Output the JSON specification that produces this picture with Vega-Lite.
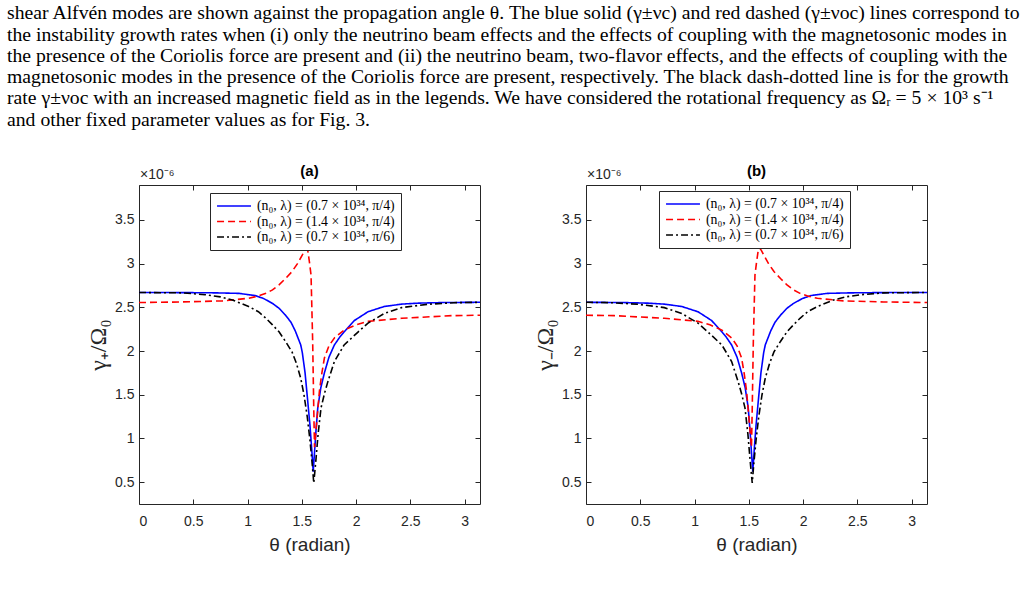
{
  "$schema": "https://vega.github.io/schema/vega-lite/v6.json",
  "background": "white",
  "padding": {"left": 7, "top": 3, "right": 5, "bottom": 5},
  "title": {
    "text": [
      "shear Alfvén modes are shown against the propagation angle θ. The blue solid (γ±νc) and red dashed (γ±νoc) lines correspond to",
      "the instability growth rates when (i) only the neutrino beam effects and the effects of coupling with the magnetosonic modes in",
      "the presence of the Coriolis force are present and (ii) the neutrino beam, two-flavor effects, and the effects of coupling with the",
      "magnetosonic modes in the presence of the Coriolis force are present, respectively. The black dash-dotted line is for the growth",
      "rate γ±νoc with an increased magnetic field as in the legends. We have considered the rotational frequency as Ωᵣ = 5 × 10³ s⁻¹",
      "and other fixed parameter values as for Fig. 3."
    ],
    "anchor": "start",
    "font": "Liberation Serif",
    "fontSize": 19.7,
    "fontWeight": "normal",
    "color": "black",
    "lineHeight": 21.3,
    "offset": 34,
    "dx": -79
  },
  "datasets": {
    "a": [
      {"t": 0, "g": 2.670, "s": "A"}, {"t": 0.4, "g": 2.669, "s": "A"}, {"t": 0.7, "g": 2.666, "s": "A"}, {"t": 0.92, "g": 2.660, "s": "A"},
      {"t": 1.07, "g": 2.635, "s": "A"}, {"t": 1.15, "g": 2.600, "s": "A"}, {"t": 1.23, "g": 2.545, "s": "A"}, {"t": 1.29, "g": 2.490, "s": "A"},
      {"t": 1.35, "g": 2.410, "s": "A"}, {"t": 1.40, "g": 2.330, "s": "A"}, {"t": 1.44, "g": 2.230, "s": "A"}, {"t": 1.465, "g": 2.150, "s": "A"},
      {"t": 1.49, "g": 2.070, "s": "A"}, {"t": 1.505, "g": 1.980, "s": "A"}, {"t": 1.53, "g": 1.750, "s": "A"}, {"t": 1.555, "g": 1.420, "s": "A"},
      {"t": 1.575, "g": 1.150, "s": "A"}, {"t": 1.59, "g": 0.900, "s": "A"}, {"t": 1.605, "g": 0.620, "s": "A"}, {"t": 1.615, "g": 0.800, "s": "A"},
      {"t": 1.63, "g": 1.080, "s": "A"}, {"t": 1.647, "g": 1.350, "s": "A"}, {"t": 1.675, "g": 1.580, "s": "A"}, {"t": 1.708, "g": 1.750, "s": "A"},
      {"t": 1.75, "g": 1.930, "s": "A"}, {"t": 1.80, "g": 2.070, "s": "A"}, {"t": 1.85, "g": 2.160, "s": "A"}, {"t": 1.89, "g": 2.220, "s": "A"},
      {"t": 1.985, "g": 2.350, "s": "A"}, {"t": 2.11, "g": 2.450, "s": "A"}, {"t": 2.26, "g": 2.510, "s": "A"}, {"t": 2.42, "g": 2.537, "s": "A"},
      {"t": 2.57, "g": 2.548, "s": "A"}, {"t": 2.8, "g": 2.555, "s": "A"}, {"t": 3.1416, "g": 2.558, "s": "A"},

      {"t": 0, "g": 2.555, "s": "B"}, {"t": 0.4, "g": 2.562, "s": "B"}, {"t": 0.77, "g": 2.574, "s": "B"}, {"t": 1.01, "g": 2.604, "s": "B"},
      {"t": 1.10, "g": 2.630, "s": "B"}, {"t": 1.17, "g": 2.660, "s": "B"}, {"t": 1.23, "g": 2.700, "s": "B"}, {"t": 1.29, "g": 2.757, "s": "B"},
      {"t": 1.35, "g": 2.830, "s": "B"}, {"t": 1.41, "g": 2.910, "s": "B"}, {"t": 1.46, "g": 3.000, "s": "B"}, {"t": 1.505, "g": 3.100, "s": "B"},
      {"t": 1.525, "g": 3.150, "s": "B"}, {"t": 1.54, "g": 3.175, "s": "B"}, {"t": 1.555, "g": 3.150, "s": "B"}, {"t": 1.57, "g": 3.020, "s": "B"},
      {"t": 1.585, "g": 2.870, "s": "B"}, {"t": 1.60, "g": 2.110, "s": "B"}, {"t": 1.61, "g": 1.350, "s": "B"}, {"t": 1.617, "g": 0.900, "s": "B"},
      {"t": 1.635, "g": 1.150, "s": "B"}, {"t": 1.662, "g": 1.540, "s": "B"}, {"t": 1.685, "g": 1.750, "s": "B"}, {"t": 1.708, "g": 1.920, "s": "B"},
      {"t": 1.75, "g": 2.060, "s": "B"}, {"t": 1.80, "g": 2.150, "s": "B"}, {"t": 1.89, "g": 2.240, "s": "B"}, {"t": 2.0, "g": 2.300, "s": "B"},
      {"t": 2.11, "g": 2.340, "s": "B"}, {"t": 2.42, "g": 2.375, "s": "B"}, {"t": 2.88, "g": 2.405, "s": "B"}, {"t": 3.1416, "g": 2.410, "s": "B"},

      {"t": 0, "g": 2.670, "s": "C"}, {"t": 0.4, "g": 2.666, "s": "C"}, {"t": 0.61, "g": 2.645, "s": "C"}, {"t": 0.75, "g": 2.620, "s": "C"},
      {"t": 0.86, "g": 2.585, "s": "C"}, {"t": 1.01, "g": 2.510, "s": "C"}, {"t": 1.10, "g": 2.450, "s": "C"}, {"t": 1.17, "g": 2.375, "s": "C"},
      {"t": 1.23, "g": 2.300, "s": "C"}, {"t": 1.29, "g": 2.220, "s": "C"}, {"t": 1.35, "g": 2.110, "s": "C"}, {"t": 1.41, "g": 1.990, "s": "C"},
      {"t": 1.45, "g": 1.860, "s": "C"}, {"t": 1.49, "g": 1.690, "s": "C"}, {"t": 1.52, "g": 1.500, "s": "C"}, {"t": 1.55, "g": 1.250, "s": "C"},
      {"t": 1.575, "g": 0.980, "s": "C"}, {"t": 1.595, "g": 0.720, "s": "C"}, {"t": 1.61, "g": 0.490, "s": "C"}, {"t": 1.62, "g": 0.620, "s": "C"},
      {"t": 1.631, "g": 0.770, "s": "C"}, {"t": 1.65, "g": 1.050, "s": "C"}, {"t": 1.677, "g": 1.350, "s": "C"}, {"t": 1.71, "g": 1.520, "s": "C"},
      {"t": 1.74, "g": 1.650, "s": "C"}, {"t": 1.80, "g": 1.880, "s": "C"}, {"t": 1.89, "g": 2.070, "s": "C"}, {"t": 2.02, "g": 2.220, "s": "C"},
      {"t": 2.11, "g": 2.320, "s": "C"}, {"t": 2.26, "g": 2.430, "s": "C"}, {"t": 2.42, "g": 2.497, "s": "C"}, {"t": 2.66, "g": 2.535, "s": "C"},
      {"t": 2.9, "g": 2.553, "s": "C"}, {"t": 3.1416, "g": 2.558, "s": "C"}
    ],
    "b": [
      {"t": 3.1416, "g": 2.670, "s": "A"}, {"t": 2.7416, "g": 2.669, "s": "A"}, {"t": 2.4416, "g": 2.666, "s": "A"}, {"t": 2.2216, "g": 2.660, "s": "A"},
      {"t": 2.0716, "g": 2.635, "s": "A"}, {"t": 1.9916, "g": 2.600, "s": "A"}, {"t": 1.9116, "g": 2.545, "s": "A"}, {"t": 1.8516, "g": 2.490, "s": "A"},
      {"t": 1.7916, "g": 2.410, "s": "A"}, {"t": 1.7416, "g": 2.330, "s": "A"}, {"t": 1.7016, "g": 2.230, "s": "A"}, {"t": 1.6766, "g": 2.150, "s": "A"},
      {"t": 1.6516, "g": 2.070, "s": "A"}, {"t": 1.6366, "g": 1.980, "s": "A"}, {"t": 1.6116, "g": 1.750, "s": "A"}, {"t": 1.5866, "g": 1.420, "s": "A"},
      {"t": 1.5666, "g": 1.150, "s": "A"}, {"t": 1.5516, "g": 0.900, "s": "A"}, {"t": 1.5366, "g": 0.620, "s": "A"}, {"t": 1.5266, "g": 0.800, "s": "A"},
      {"t": 1.5116, "g": 1.080, "s": "A"}, {"t": 1.4946, "g": 1.350, "s": "A"}, {"t": 1.4666, "g": 1.580, "s": "A"}, {"t": 1.4336, "g": 1.750, "s": "A"},
      {"t": 1.3916, "g": 1.930, "s": "A"}, {"t": 1.3416, "g": 2.070, "s": "A"}, {"t": 1.2916, "g": 2.160, "s": "A"}, {"t": 1.2516, "g": 2.220, "s": "A"},
      {"t": 1.1566, "g": 2.350, "s": "A"}, {"t": 1.0316, "g": 2.450, "s": "A"}, {"t": 0.8816, "g": 2.510, "s": "A"}, {"t": 0.7216, "g": 2.537, "s": "A"},
      {"t": 0.5716, "g": 2.548, "s": "A"}, {"t": 0.3416, "g": 2.555, "s": "A"}, {"t": 0, "g": 2.558, "s": "A"},

      {"t": 3.1416, "g": 2.555, "s": "B"}, {"t": 2.7416, "g": 2.562, "s": "B"}, {"t": 2.3716, "g": 2.574, "s": "B"}, {"t": 2.1316, "g": 2.604, "s": "B"},
      {"t": 2.0416, "g": 2.630, "s": "B"}, {"t": 1.9716, "g": 2.660, "s": "B"}, {"t": 1.9116, "g": 2.700, "s": "B"}, {"t": 1.8516, "g": 2.757, "s": "B"},
      {"t": 1.7916, "g": 2.830, "s": "B"}, {"t": 1.7316, "g": 2.910, "s": "B"}, {"t": 1.6816, "g": 3.000, "s": "B"}, {"t": 1.6366, "g": 3.100, "s": "B"},
      {"t": 1.6166, "g": 3.150, "s": "B"}, {"t": 1.6016, "g": 3.175, "s": "B"}, {"t": 1.5866, "g": 3.150, "s": "B"}, {"t": 1.5716, "g": 3.020, "s": "B"},
      {"t": 1.5566, "g": 2.870, "s": "B"}, {"t": 1.5416, "g": 2.110, "s": "B"}, {"t": 1.5316, "g": 1.350, "s": "B"}, {"t": 1.5246, "g": 0.900, "s": "B"},
      {"t": 1.5066, "g": 1.150, "s": "B"}, {"t": 1.4796, "g": 1.540, "s": "B"}, {"t": 1.4566, "g": 1.750, "s": "B"}, {"t": 1.4336, "g": 1.920, "s": "B"},
      {"t": 1.3916, "g": 2.060, "s": "B"}, {"t": 1.3416, "g": 2.150, "s": "B"}, {"t": 1.2516, "g": 2.240, "s": "B"}, {"t": 1.1416, "g": 2.300, "s": "B"},
      {"t": 1.0316, "g": 2.340, "s": "B"}, {"t": 0.7216, "g": 2.375, "s": "B"}, {"t": 0.2616, "g": 2.405, "s": "B"}, {"t": 0, "g": 2.410, "s": "B"},

      {"t": 3.1416, "g": 2.670, "s": "C"}, {"t": 2.7416, "g": 2.666, "s": "C"}, {"t": 2.5316, "g": 2.645, "s": "C"}, {"t": 2.3916, "g": 2.620, "s": "C"},
      {"t": 2.2816, "g": 2.585, "s": "C"}, {"t": 2.1316, "g": 2.510, "s": "C"}, {"t": 2.0416, "g": 2.450, "s": "C"}, {"t": 1.9716, "g": 2.375, "s": "C"},
      {"t": 1.9116, "g": 2.300, "s": "C"}, {"t": 1.8516, "g": 2.220, "s": "C"}, {"t": 1.7916, "g": 2.110, "s": "C"}, {"t": 1.7316, "g": 1.990, "s": "C"},
      {"t": 1.6916, "g": 1.860, "s": "C"}, {"t": 1.6516, "g": 1.690, "s": "C"}, {"t": 1.6216, "g": 1.500, "s": "C"}, {"t": 1.5916, "g": 1.250, "s": "C"},
      {"t": 1.5666, "g": 0.980, "s": "C"}, {"t": 1.5466, "g": 0.720, "s": "C"}, {"t": 1.5316, "g": 0.490, "s": "C"}, {"t": 1.5216, "g": 0.620, "s": "C"},
      {"t": 1.5106, "g": 0.770, "s": "C"}, {"t": 1.4916, "g": 1.050, "s": "C"}, {"t": 1.4646, "g": 1.350, "s": "C"}, {"t": 1.4316, "g": 1.520, "s": "C"},
      {"t": 1.4016, "g": 1.650, "s": "C"}, {"t": 1.3416, "g": 1.880, "s": "C"}, {"t": 1.2516, "g": 2.070, "s": "C"}, {"t": 1.1216, "g": 2.220, "s": "C"},
      {"t": 1.0316, "g": 2.320, "s": "C"}, {"t": 0.8816, "g": 2.430, "s": "C"}, {"t": 0.7216, "g": 2.497, "s": "C"}, {"t": 0.4816, "g": 2.535, "s": "C"},
      {"t": 0.2416, "g": 2.553, "s": "C"}, {"t": 0, "g": 2.558, "s": "C"}
    ],
    "mark": [{"t": 0, "g": 3.9, "txt": "×10⁻⁶"}]
  },
  "spacing": 52,
  "resolve": {"scale": {"color": "independent", "strokeDash": "independent"}},
  "hconcat": [
    {
      "width": 341,
      "height": 319,
      "title": {"text": "(a)", "font": "Liberation Sans", "fontSize": 15, "fontWeight": "bold", "color": "black", "offset": -11},
      "layer": [
        {
          "data": {"name": "a"},
          "mark": {"type": "line", "strokeWidth": 1.6, "clip": true},
          "encoding": {
            "x": {"field": "t", "type": "quantitative", "scale": {"domain": [0, 3.1416], "nice": false, "zero": false},
                  "axis": {"orient": "bottom", "values": [0, 0.5, 1, 1.5, 2, 2.5, 3], "format": "~g", "title": "θ (radian)", "titleFontSize": 19, "titlePadding": 7, "labelPadding": 15}},
            "y": {"field": "g", "type": "quantitative", "scale": {"domain": [0.25, 3.9], "nice": false, "zero": false},
                  "axis": {"orient": "left", "values": [0.5, 1, 1.5, 2, 2.5, 3, 3.5], "format": "~g", "title": "γ₊/Ω₀", "titleFont": "Liberation Serif", "titleFontSize": 24, "titlePadding": 4, "labelPadding": 10}},
            "color": {"field": "s", "type": "nominal", "scale": {"domain": ["A", "B", "C"], "range": ["#0000ff", "#ff0000", "#000000"]},
                      "legend": {"orient": "none", "legendX": 71, "legendY": 8, "labelExpr": "datum.label == 'A' ? '(n₀, λ) = (0.7 × 10³⁴, π/4)' : datum.label == 'B' ? '(n₀, λ) = (1.4 × 10³⁴, π/4)' : '(n₀, λ) = (0.7 × 10³⁴, π/6)'"}},
            "strokeDash": {"field": "s", "type": "nominal", "scale": {"domain": ["A", "B", "C"], "range": [[1, 0], [7, 4], [7, 3, 2, 3]]},
                      "legend": {"orient": "none", "legendX": 71, "legendY": 8, "labelExpr": "datum.label == 'A' ? '(n₀, λ) = (0.7 × 10³⁴, π/4)' : datum.label == 'B' ? '(n₀, λ) = (1.4 × 10³⁴, π/4)' : '(n₀, λ) = (0.7 × 10³⁴, π/6)'"}}
          }
        },
        {
          "data": {"name": "mark"},
          "mark": {"type": "text", "align": "left", "baseline": "bottom", "dy": -3, "dx": 1, "font": "Liberation Sans", "fontSize": 14, "color": "#262626", "clip": false},
          "encoding": {
            "x": {"field": "t", "type": "quantitative", "axis": {"orient": "top", "values": [0, 0.5, 1, 1.5, 2, 2.5, 3], "labels": false, "title": null}},
            "y": {"field": "g", "type": "quantitative", "axis": {"orient": "right", "values": [0.5, 1, 1.5, 2, 2.5, 3, 3.5], "labels": false, "title": null}},
            "text": {"field": "txt"}
          }
        }
      ],
      "resolve": {"axis": {"x": "independent", "y": "independent"}}
    },
    {
      "width": 341,
      "height": 319,
      "title": {"text": "(b)", "font": "Liberation Sans", "fontSize": 15, "fontWeight": "bold", "color": "black", "offset": -11},
      "layer": [
        {
          "data": {"name": "b"},
          "mark": {"type": "line", "strokeWidth": 1.6, "clip": true},
          "encoding": {
            "x": {"field": "t", "type": "quantitative", "scale": {"domain": [0, 3.1416], "nice": false, "zero": false},
                  "axis": {"orient": "bottom", "values": [0, 0.5, 1, 1.5, 2, 2.5, 3], "format": "~g", "title": "θ (radian)", "titleFontSize": 19, "titlePadding": 7, "labelPadding": 15}},
            "y": {"field": "g", "type": "quantitative", "scale": {"domain": [0.25, 3.9], "nice": false, "zero": false},
                  "axis": {"orient": "left", "values": [0.5, 1, 1.5, 2, 2.5, 3, 3.5], "format": "~g", "title": "γ₋/Ω₀", "titleFont": "Liberation Serif", "titleFontSize": 24, "titlePadding": 4, "labelPadding": 10}},
            "color": {"field": "s", "type": "nominal", "scale": {"domain": ["A", "B", "C"], "range": ["#0000ff", "#ff0000", "#000000"]},
                      "legend": {"orient": "none", "legendX": 73, "legendY": 6, "labelExpr": "datum.label == 'A' ? '(n₀, λ) = (0.7 × 10³⁴, π/4)' : datum.label == 'B' ? '(n₀, λ) = (1.4 × 10³⁴, π/4)' : '(n₀, λ) = (0.7 × 10³⁴, π/6)'"}},
            "strokeDash": {"field": "s", "type": "nominal", "scale": {"domain": ["A", "B", "C"], "range": [[1, 0], [7, 4], [7, 3, 2, 3]]},
                      "legend": {"orient": "none", "legendX": 73, "legendY": 6, "labelExpr": "datum.label == 'A' ? '(n₀, λ) = (0.7 × 10³⁴, π/4)' : datum.label == 'B' ? '(n₀, λ) = (1.4 × 10³⁴, π/4)' : '(n₀, λ) = (0.7 × 10³⁴, π/6)'"}}
          }
        },
        {
          "data": {"name": "mark"},
          "mark": {"type": "text", "align": "left", "baseline": "bottom", "dy": -3, "dx": 1, "font": "Liberation Sans", "fontSize": 14, "color": "#262626", "clip": false},
          "encoding": {
            "x": {"field": "t", "type": "quantitative", "axis": {"orient": "top", "values": [0, 0.5, 1, 1.5, 2, 2.5, 3], "labels": false, "title": null}},
            "y": {"field": "g", "type": "quantitative", "axis": {"orient": "right", "values": [0.5, 1, 1.5, 2, 2.5, 3, 3.5], "labels": false, "title": null}},
            "text": {"field": "txt"}
          }
        }
      ],
      "resolve": {"axis": {"x": "independent", "y": "independent"}}
    }
  ],
  "config": {
    "view": {"stroke": "#262626", "strokeWidth": 1},
    "axis": {
      "labelFont": "Liberation Sans", "labelFontSize": 14, "labelColor": "#262626",
      "tickColor": "#262626", "tickSize": -5, "tickWidth": 1, "domain": false, "grid": false,
      "titleFont": "Liberation Sans", "titleColor": "#262626", "titleFontWeight": "normal"
    },
    "legend": {
      "title": null, "fillColor": "white", "strokeColor": "#262626", "padding": 6,
      "labelFont": "Liberation Serif", "labelFontSize": 13.8, "labelColor": "black", "labelLimit": 0,
      "symbolType": "stroke", "symbolSize": 1150, "symbolStrokeWidth": 1.6, "clipHeight": 14, "rowPadding": 1.5, "labelOffset": 5
    }
  }
}
